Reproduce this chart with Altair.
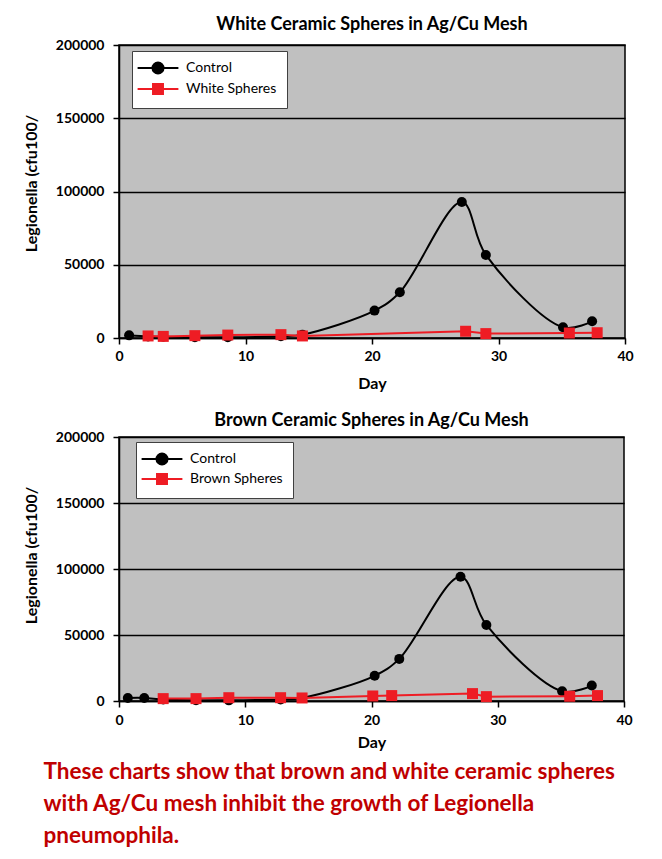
import altair as alt
import pandas as pd

# ---------------- data ----------------
# Chart 1: White Ceramic Spheres
w_ctrl_day = [0.8, 2.3, 3.5, 6.0, 8.6, 12.8, 14.5, 20.2, 22.2, 27.1, 29.0, 35.1, 37.4]
w_ctrl_val = [1800, 1000, 800, 500, 500, 1200, 2300, 18700, 31200, 92800, 56700, 7300, 11400]
w_trt_day = [2.3, 3.5, 6.0, 8.6, 12.8, 14.5, 27.4, 29.0, 35.6, 37.8]
w_trt_val = [1400, 1100, 1600, 2000, 2300, 1400, 4600, 3000, 3400, 3600]

# Chart 2: Brown Ceramic Spheres
b_ctrl_day = [0.7, 2.0, 3.5, 6.1, 8.7, 12.8, 14.5, 20.25, 22.2, 27.05, 29.1, 35.1, 37.45]
b_ctrl_val = [2300, 2300, 1200, 600, 500, 1200, 2300, 19100, 31900, 94100, 57600, 7400, 11700]
b_trt_day = [3.5, 6.1, 8.7, 12.8, 14.5, 20.1, 21.6, 28.0, 29.1, 35.7, 37.9]
b_trt_val = [1800, 1800, 2500, 2500, 2300, 3800, 4100, 5600, 3300, 3600, 4100]

x_ticks = [0, 10, 20, 30, 40]
y_ticks = [0, 50000, 100000, 150000, 200000]

titles = ["White Ceramic Spheres in Ag/Cu Mesh", "Brown Ceramic Spheres in Ag/Cu Mesh"]
trt_names = ["White Spheres", "Brown Spheres"]
y_title = "Legionella (cfu100/"
x_title = "Day"
note_lines = [
    "These charts show that brown and white ceramic spheres",
    "with Ag/Cu mesh inhibit the growth of Legionella",
    "pneumophila.",
]

# ---------------- styling ----------------
FONT = "Lato"
BLACK = "#000000"
RED = "#ee1c24"
NOTE_RED = "#c00000"
CIRCLE_PATH = "M-3.4,0H3.4M0.92,0A0.92,0.92 0 1,1 -0.92,0A0.92,0.92 0 1,1 0.92,0Z"
SQUARE_PATH = "M-3.4,0H3.4M-0.83,-0.83H0.83V0.83H-0.83Z"


def panel(title, ctrl_day, ctrl_val, trt_name, trt_day, trt_val, width, height,
          leg_x, leg_y, row_pad, title_y, title_off, x_lab_pad, x_title_pad):
    df = pd.concat([
        pd.DataFrame({"day": ctrl_day, "value": ctrl_val, "series": "Control"}),
        pd.DataFrame({"day": trt_day, "value": trt_val, "series": trt_name}),
    ], ignore_index=True)

    legend = alt.Legend(
        title=None, orient="none", legendX=leg_x, legendY=leg_y,
        fillColor="white", strokeColor="#404040", padding=10,
        labelFont=FONT, labelFontSize=14, labelColor="#000000",
        symbolSize=144, symbolOffset=9, labelOffset=21, rowPadding=row_pad,
        symbolStrokeWidth=2, symbolOpacity=1,
    )
    dom = ["Control", trt_name]
    stroke = alt.Stroke("series:N", scale=alt.Scale(domain=dom, range=[BLACK, RED]), legend=legend)
    fill = alt.Fill("series:N", scale=alt.Scale(domain=dom, range=[BLACK, RED]), legend=legend)
    shape = alt.Shape("series:N", scale=alt.Scale(domain=dom, range=[CIRCLE_PATH, SQUARE_PATH]),
                      legend=legend)
    x = alt.X("day:Q", scale=alt.Scale(domain=[0, 40], nice=False),
              axis=alt.Axis(values=x_ticks, title=x_title, grid=False, labelFlush=False,
                            labelPadding=x_lab_pad, titlePadding=x_title_pad))
    y = alt.Y("value:Q", scale=alt.Scale(domain=[0, 200000], nice=False),
              axis=alt.Axis(values=y_ticks, title=y_title, format="d", grid=True,
                            labelPadding=9, titlePadding=16, titleY=title_y))

    base = alt.Chart(df).encode(x=x, y=y)
    ctrl_line = base.transform_filter(alt.datum.series == "Control").mark_line(
        interpolate="catmull-rom", strokeWidth=2, clip=True).encode(stroke=stroke)
    trt_line = base.transform_filter(alt.datum.series == trt_name).mark_line(
        strokeWidth=2, clip=True).encode(stroke=stroke)
    ctrl_pts = base.transform_filter(alt.datum.series == "Control").mark_point(
        shape="circle", filled=True, size=100, opacity=1, strokeWidth=0).encode(fill=fill)
    trt_pts = base.transform_filter(alt.datum.series == trt_name).mark_point(
        shape="square", filled=True, size=121, opacity=1, strokeWidth=0).encode(fill=fill)
    # carries the legend symbols (line + marker); draws no data
    legend_carrier = base.transform_filter("false").mark_point(
        filled=True, size=144, opacity=1).encode(fill=fill, stroke=stroke, shape=shape)

    return alt.layer(ctrl_line, ctrl_pts, trt_line, trt_pts, legend_carrier).properties(
        width=width, height=height,
        title=alt.TitleParams(title, font=FONT, fontSize=18, fontWeight="bold",
                              color="#000000", anchor="middle", offset=title_off),
    )


c1 = panel(titles[0], w_ctrl_day, w_ctrl_val, trt_names[0], w_trt_day, w_trt_val,
           506, 293, 13, 6, 2, 138, 4, 5, 12)
c2 = panel(titles[1], b_ctrl_day, b_ctrl_val, trt_names[1], b_trt_day, b_trt_val,
           505, 264, 17, 5, 1, 118, 0, 6, 7)

chart = alt.vconcat(c1, c2, spacing=19).resolve_scale(
    fill="independent", stroke="independent", shape="independent"
).resolve_legend(
    fill="independent", stroke="independent", shape="independent"
).properties(
    background="white",
    padding={"left": 14, "top": 7, "right": 10, "bottom": 10},
    title=alt.TitleParams(note_lines, orient="bottom", anchor="start", font=FONT,
                          fontSize=22.5, fontWeight="bold", color=NOTE_RED,
                          lineHeight=32, offset=10, dx=21),
).configure_view(
    fill="#c0c0c0", stroke="#000000", strokeWidth=1.5
).configure_axis(
    labelFont=FONT, labelFontSize=14, labelFontWeight="bold", labelColor="#000000",
    titleFont=FONT, titleFontSize=16, titleFontWeight="bold", titleColor="#000000",
    domainColor="#000000", domainWidth=1.5, tickColor="#000000", tickWidth=1.5,
    tickSize=6, gridColor="#000000", gridWidth=1.5, gridOpacity=1,
)

chart.save("out.html", embed_options={"renderer": "svg", "actions": False})
